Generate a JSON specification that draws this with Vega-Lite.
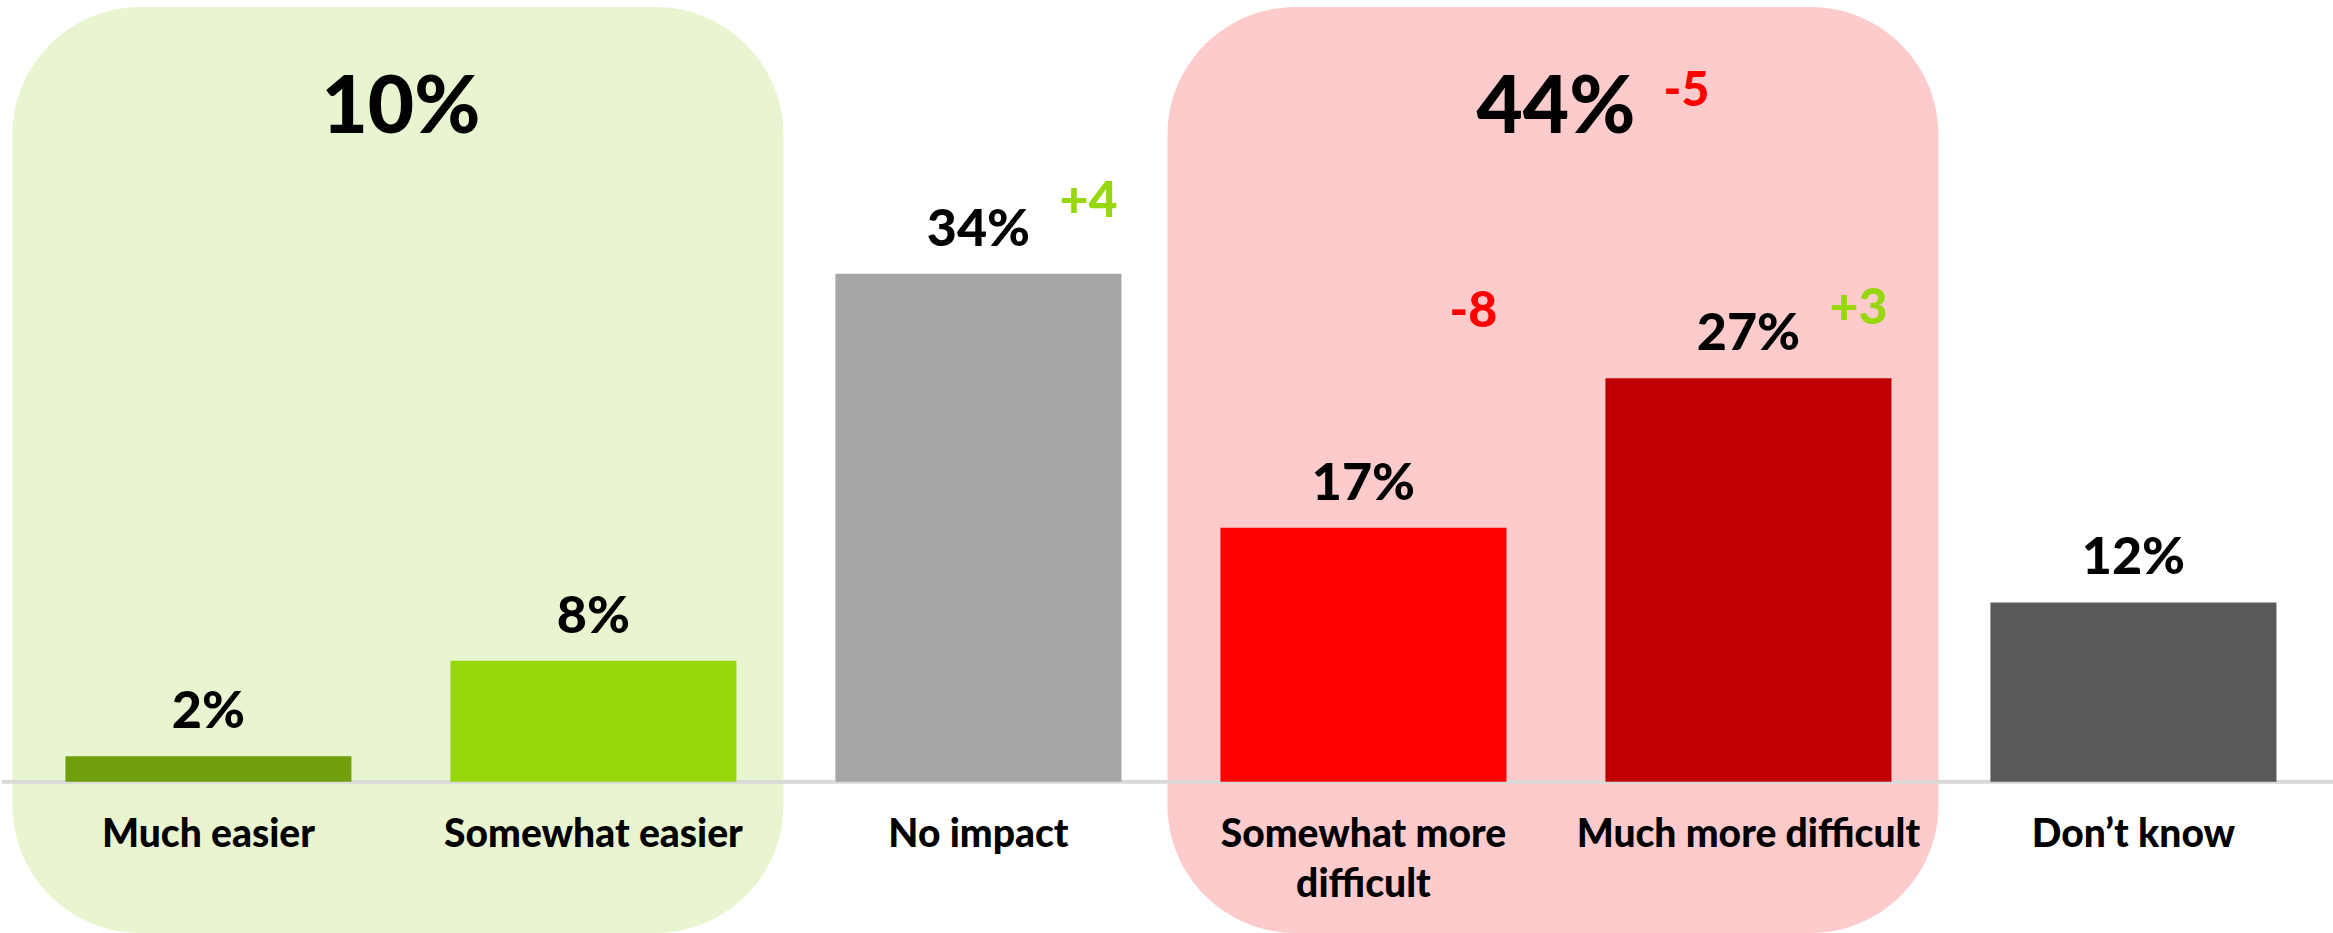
{
  "$schema": "https://vega.github.io/schema/vega-lite/v6.json",
  "width": 2333,
  "height": 933,
  "padding": 0,
  "background": "white",
  "config": {"view": {"stroke": null}, "text": {"font": "Lato"}},
  "datasets": {
    "bars": [
      {"cat": "Much easier", "name": "Much easier", "value": 1.7, "label": "2%"},
      {"cat": "Somewhat easier", "name": "Somewhat easier", "value": 8.1, "label": "8%"},
      {"cat": "No impact", "name": "No impact", "value": 34, "label": "34%", "delta": "+4", "deltaY": 37.8, "dir": "up"},
      {"cat": "Somewhat more difficult", "name": "Somewhat more\ndifficult", "value": 17, "label": "17%", "delta": "-8", "deltaY": 30.4, "dir": "down"},
      {"cat": "Much more difficult", "name": "Much more difficult", "value": 27, "label": "27%", "delta": "+3", "deltaY": 30.6, "dir": "up"},
      {"cat": "Don’t know", "name": "Don’t know", "value": 12, "label": "12%"}
    ],
    "groups": [
      {"group": "Easier", "from": "Much easier", "to": "Somewhat easier", "total": "10%", "totalY": 43.4},
      {"group": "Difficult", "from": "Somewhat more difficult", "to": "Much more difficult", "total": "44%", "totalY": 43.4, "delta": "-5", "deltaY": 45.2, "dir": "down"}
    ]
  },
  "resolve": {"scale": {"color": "independent"}},
  "layer": [
    {
      "data": {"name": "groups"},
      "mark": {"type": "rect", "cornerRadius": 128, "xOffset": -53, "x2Offset": 47},
      "encoding": {
        "x": {"field": "from", "type": "nominal", "bandPosition": 0,
          "scale": {"domain": ["Much easier", "Somewhat easier", "No impact", "Somewhat more difficult", "Much more difficult", "Don’t know"], "paddingInner": 0.2571, "paddingOuter": 0.1584, "align": 0.52},
          "axis": null},
        "x2": {"field": "to", "bandPosition": 1},
        "y": {"datum": 51.85, "type": "quantitative", "scale": {"domain": [-10.13, 52.32], "nice": false, "zero": false}, "axis": null},
        "y2": {"datum": -10.13},
        "color": {"field": "group", "type": "nominal", "scale": {"domain": ["Easier", "Difficult"], "range": ["#E9F5D0", "#FDCBCB"]}, "legend": null}
      }
    },
    {
      "data": {"name": "bars"},
      "mark": {"type": "rule", "color": "#D9D9D9", "strokeWidth": 3},
      "encoding": {"y": {"datum": 0, "type": "quantitative"}}
    },
    {
      "data": {"name": "bars"},
      "mark": {"type": "bar"},
      "encoding": {
        "x": {"field": "cat", "type": "nominal"},
        "y": {"field": "value", "type": "quantitative"},
        "color": {"field": "cat", "type": "nominal",
          "scale": {"domain": ["Much easier", "Somewhat easier", "No impact", "Somewhat more difficult", "Much more difficult", "Don’t know"], "range": ["#709F0B", "#97D80C", "#A6A6A6", "#FF0000", "#C00000", "#595959"]},
          "legend": null}
      }
    },
    {
      "data": {"name": "bars"},
      "mark": {"type": "text", "fontSize": 52, "fontWeight": 900, "color": "#000000", "baseline": "alphabetic", "align": "center", "dy": -28},
      "encoding": {
        "x": {"field": "cat", "type": "nominal"},
        "y": {"field": "value", "type": "quantitative"},
        "text": {"field": "label"}
      }
    },
    {
      "data": {"name": "bars"},
      "transform": [{"filter": "datum.delta != null"}],
      "mark": {"type": "text", "fontSize": 50, "fontWeight": 900, "baseline": "alphabetic", "align": "center", "dx": 110},
      "encoding": {
        "x": {"field": "cat", "type": "nominal"},
        "y": {"field": "deltaY", "type": "quantitative"},
        "text": {"field": "delta"},
        "color": {"field": "dir", "type": "nominal", "scale": {"domain": ["up", "down"], "range": ["#97D80C", "#FF0000"]}, "legend": null}
      }
    },
    {
      "data": {"name": "bars"},
      "mark": {"type": "text", "fontSize": 39, "fontWeight": 900, "color": "#000000", "baseline": "alphabetic", "align": "center", "lineHeight": 50, "lineBreak": "\n"},
      "encoding": {
        "x": {"field": "cat", "type": "nominal"},
        "y": {"datum": -4.37, "type": "quantitative"},
        "text": {"field": "name"}
      }
    },
    {
      "data": {"name": "groups"},
      "mark": {"type": "text", "fontSize": 80, "fontWeight": 900, "color": "#000000", "baseline": "alphabetic", "align": "center", "dx": 49.5},
      "encoding": {
        "x": {"field": "from", "type": "nominal", "bandPosition": 1},
        "y": {"field": "totalY", "type": "quantitative"},
        "text": {"field": "total"}
      }
    },
    {
      "data": {"name": "groups"},
      "transform": [{"filter": "datum.delta != null"}],
      "mark": {"type": "text", "fontSize": 48, "fontWeight": 900, "color": "#FF0000", "baseline": "alphabetic", "align": "center", "dx": 180},
      "encoding": {
        "x": {"field": "from", "type": "nominal", "bandPosition": 1},
        "y": {"field": "deltaY", "type": "quantitative"},
        "text": {"field": "delta"}
      }
    }
  ]
}
